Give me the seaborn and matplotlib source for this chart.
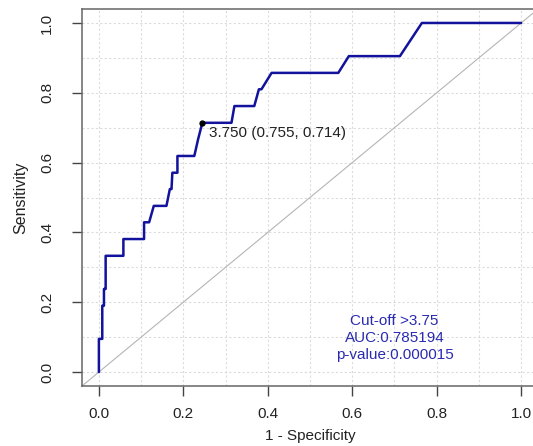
import numpy as np
import pandas as pd
import seaborn as sns
import matplotlib.pyplot as plt
from matplotlib.ticker import MultipleLocator

# ROC curve (x = 1 - specificity, y = sensitivity)
fpr = [0.0, 0.0, 0.008, 0.008, 0.012, 0.012, 0.016, 0.016, 0.058, 0.058,
       0.107, 0.107, 0.119, 0.130, 0.160, 0.168, 0.172, 0.174, 0.186, 0.186,
       0.226, 0.235, 0.245, 0.314, 0.321, 0.368, 0.379, 0.385, 0.409, 0.567,
       0.592, 0.713, 0.765, 1.0]
tpr = [0.0, 0.095, 0.095, 0.190, 0.190, 0.238, 0.238, 0.333, 0.333, 0.381,
       0.381, 0.429, 0.429, 0.476, 0.476, 0.524, 0.524, 0.571, 0.571, 0.619,
       0.619, 0.667, 0.714, 0.714, 0.762, 0.762, 0.810, 0.810, 0.857, 0.857,
       0.905, 0.905, 1.0, 1.0]

# best threshold
thr = 3.750
thr_spec = 0.755
thr_sens = 0.714

stats_lines = ["Cut-off >3.75", "AUC:0.785194", "p-value:0.000015"]

roc = pd.DataFrame({"fpr": fpr, "tpr": tpr})

sns.set_style("white")
plt.rcParams["font.family"] = ["Liberation Sans", "DejaVu Sans"]

fig = plt.figure(figsize=(5.33, 4.46), dpi=100)
ax = fig.add_axes([82 / 533, 60 / 446, 456 / 533, 377 / 446])

# grid every 0.1
ax.xaxis.set_major_locator(MultipleLocator(0.2))
ax.yaxis.set_major_locator(MultipleLocator(0.2))
ax.xaxis.set_minor_locator(MultipleLocator(0.1))
ax.yaxis.set_minor_locator(MultipleLocator(0.1))
ax.grid(which="both", color="#dcdcdc", linestyle=(0, (2, 2)), linewidth=0.8)
ax.set_axisbelow(True)

# chance line
ax.axline((0, 0), (1, 1), color="#b5b5b5", linewidth=0.8, zorder=1)

sns.lineplot(data=roc, x="fpr", y="tpr", sort=False, estimator=None,
             color="#12129c", linewidth=1.8, ax=ax, zorder=3)

# threshold point
ax.plot([1 - thr_spec], [thr_sens], "o", color="black", markersize=3.5, zorder=4)
ax.annotate(f"{thr:.3f} ({thr_spec:.3f}, {thr_sens:.3f})",
            xy=(1 - thr_spec, thr_sens), xytext=(5, -7.5),
            textcoords="offset points", ha="left", va="center",
            fontsize=11, color="#222222")

ax.text(0.70, 0.097, "\n".join(stats_lines), ha="center", va="center",
        fontsize=11, color="#2a2ab0", linespacing=1.25)

ax.set_xlim(-0.04, 1.04)
ax.set_ylim(-0.04, 1.04)

for s in ax.spines.values():
    s.set_color("#666666")
    s.set_linewidth(1.1)

ax.tick_params(which="minor", length=0)
ax.tick_params(axis="both", which="major", bottom=True, left=True,
               length=7, width=1, color="#444444",
               labelsize=11, labelcolor="#222222")
ax.tick_params(axis="x", pad=8)
ax.tick_params(axis="y", pad=13)
for lab in ax.get_yticklabels():
    lab.set_rotation(90)
    lab.set_va("center")

ax.set_xlabel("1 - Specificity", fontsize=11, color="#222222")
ax.set_ylabel("Sensitivity", fontsize=11.5, color="#222222")
ax.xaxis.set_label_coords(0.5, -0.115)
ax.yaxis.set_label_coords(-0.118, 0.5)

fig.savefig("out.png", dpi=100)
